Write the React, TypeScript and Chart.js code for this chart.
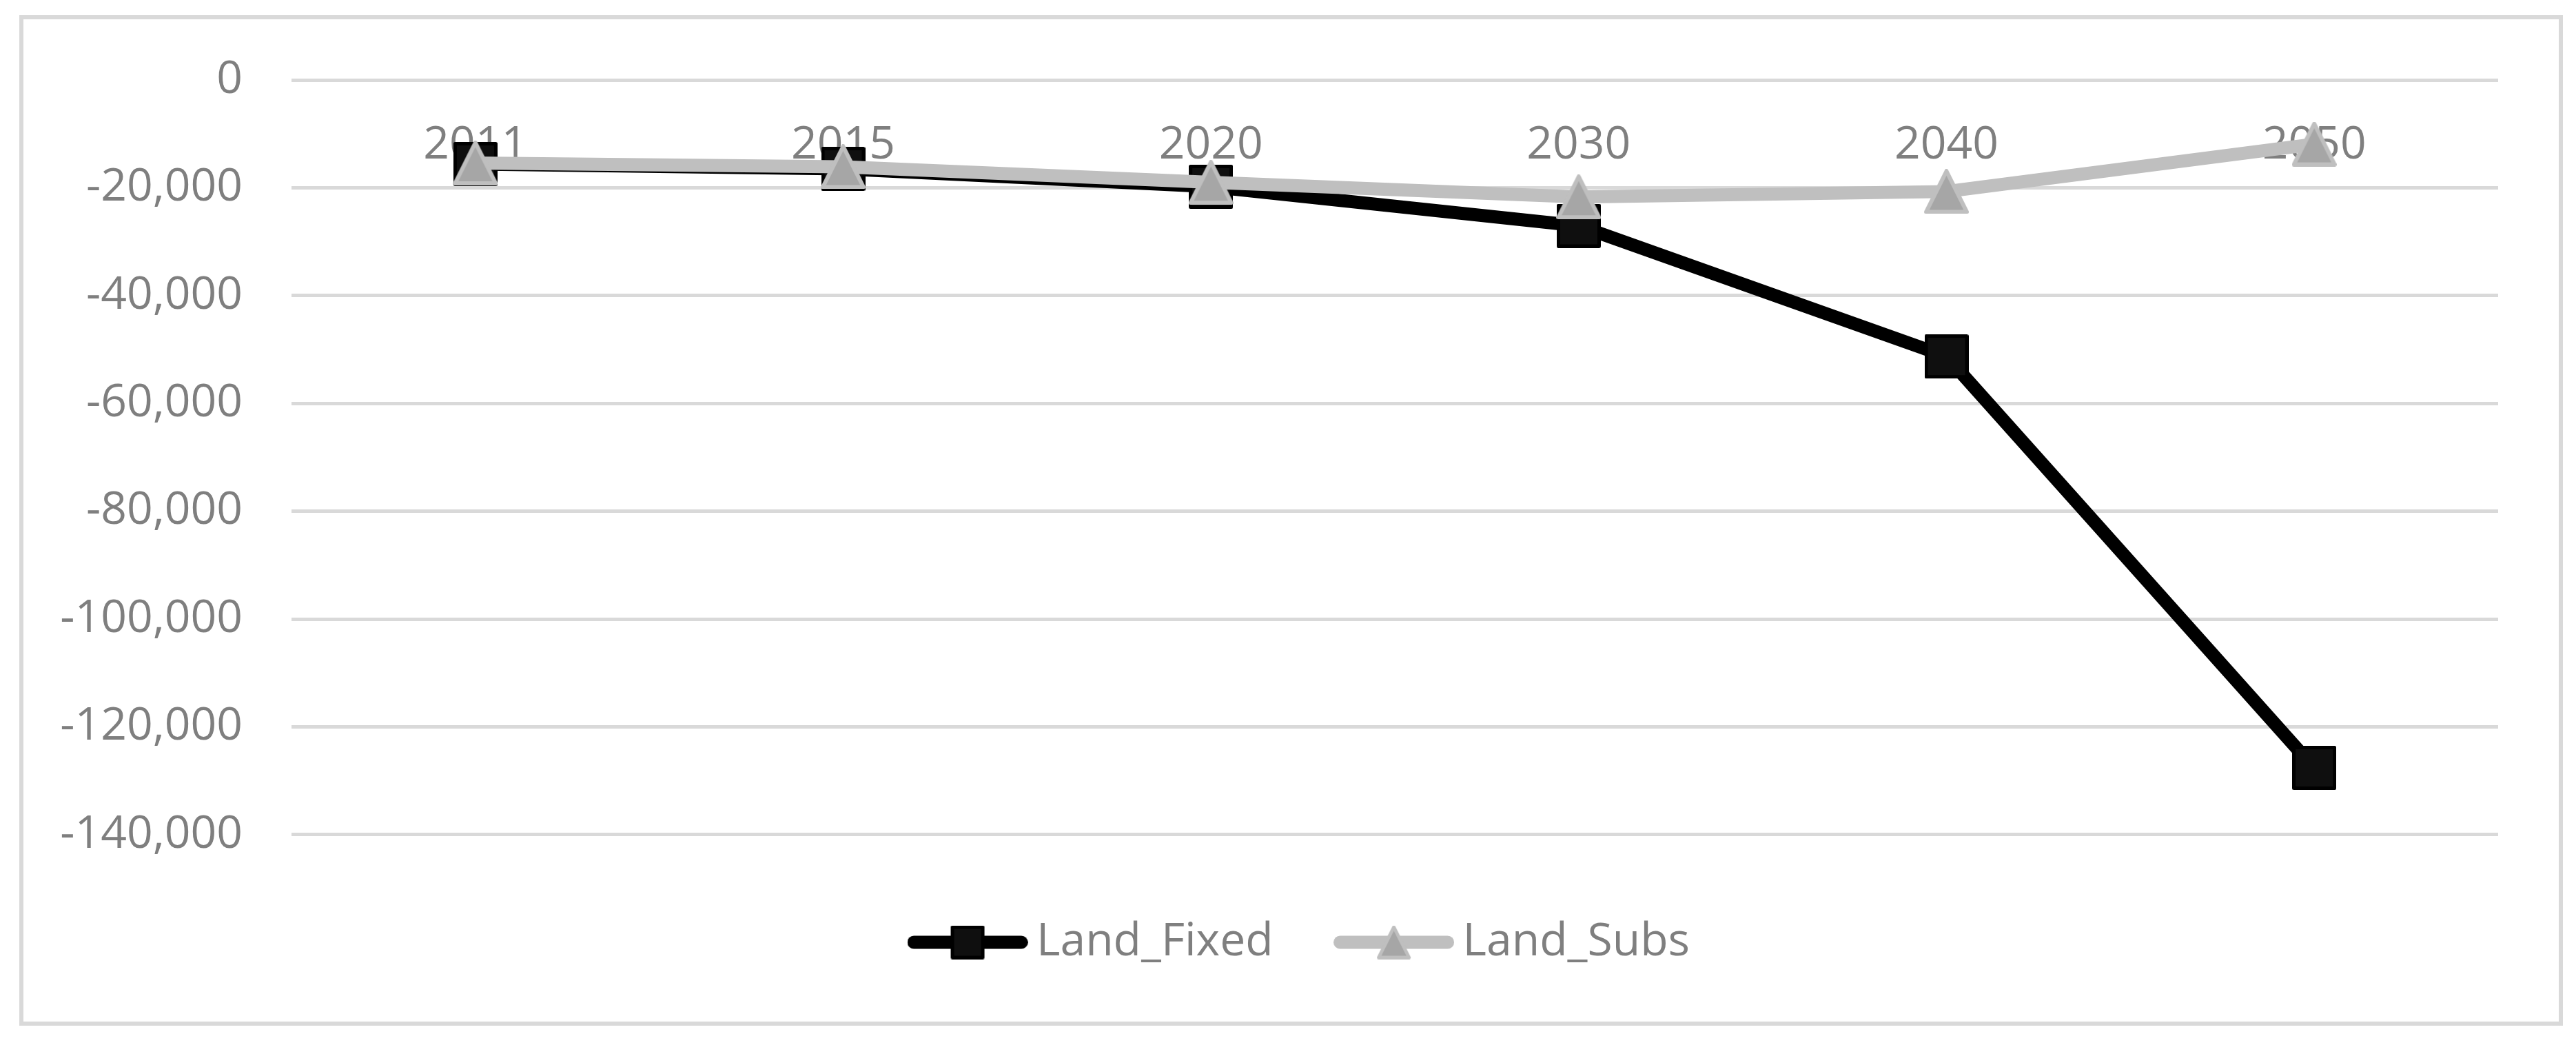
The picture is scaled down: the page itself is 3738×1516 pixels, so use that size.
import React, { useEffect, useRef } from "react";
import { Chart, registerables } from "chart.js";

Chart.register(...registerables);

// ---- data ----
const years: string[] = ["2011", "2015", "2020", "2030", "2040", "2050"];
const landFixed: number[] = [-15600, -16500, -19800, -27050, -51300, -127600];
const landSubs: number[] = [-15400, -16100, -19000, -21700, -20700, -11900];
const seriesNames: string[] = ["Land_Fixed", "Land_Subs"];
const yMin = -140000;
const yMax = 0;
const yStep = 20000;

// ---- style ----
const FONT = "'Open Sans', 'Liberation Sans', sans-serif";
const FONT_SIZE = 66;
const TEXT = "#7f7f7f";
const GRID = "#d9d9d9";
const FIXED_LINE = "#000000";
const SUBS_LINE = "#bfbfbf";
const LINE_W = 19;

function squareMarker(size: number, border: number): HTMLCanvasElement {
  const c = document.createElement("canvas");
  c.width = size;
  c.height = size;
  const ctx = c.getContext("2d")!;
  ctx.lineJoin = "round";
  ctx.fillStyle = "#0f0f0f";
  ctx.strokeStyle = "#000000";
  ctx.lineWidth = border;
  const h = border / 2;
  ctx.fillRect(h, h, size - border, size - border);
  ctx.strokeRect(h, h, size - border, size - border);
  return c;
}

function triangleMarker(size: number, border: number): HTMLCanvasElement {
  const c = document.createElement("canvas");
  c.width = size;
  c.height = size;
  const ctx = c.getContext("2d")!;
  ctx.lineJoin = "round";
  ctx.fillStyle = "#a6a6a6";
  ctx.strokeStyle = "#bfbfbf";
  ctx.lineWidth = border;
  const h = border / 2;
  ctx.beginPath();
  ctx.moveTo(size / 2, h);
  ctx.lineTo(size - h, size - h);
  ctx.lineTo(h, size - h);
  ctx.closePath();
  ctx.fill();
  ctx.stroke();
  return c;
}

function legendIcon(marker: HTMLCanvasElement, color: string, width: number, height: number): HTMLCanvasElement {
  const c = document.createElement("canvas");
  c.width = width;
  c.height = height;
  const ctx = c.getContext("2d")!;
  ctx.strokeStyle = color;
  ctx.lineWidth = LINE_W;
  ctx.lineCap = "round";
  ctx.beginPath();
  ctx.moveTo(LINE_W / 2, height / 2);
  ctx.lineTo(width - LINE_W / 2, height / 2);
  ctx.stroke();
  ctx.drawImage(marker, (width - marker.width) / 2, (height - marker.height) / 2);
  return c;
}

const CANVAS_W = 3679;
const CANVAS_H = 1454;

export default function App() {
  const ref = useRef<HTMLCanvasElement | null>(null);

  useEffect(() => {
    if (!ref.current) return;
    const sq = squareMarker(64, 5);
    const tri = triangleMarker(65, 6);
    const legSq = legendIcon(squareMarker(49, 5), FIXED_LINE, 175, 52);
    const legTri = legendIcon(triangleMarker(49, 5), SUBS_LINE, 175, 52);
    const legendIcons = [legSq, legTri];

    const chart = new Chart(ref.current, {
      type: "line",
      data: {
        labels: years,
        datasets: [
          {
            label: seriesNames[0],
            data: landFixed,
            borderColor: FIXED_LINE,
            backgroundColor: FIXED_LINE,
            borderWidth: LINE_W,
            borderJoinStyle: "round",
            borderCapStyle: "round",
            pointStyle: sq as any,
            pointRadius: 32,
            tension: 0,
            order: 1,
            xAxisID: "x",
            yAxisID: "y",
          },
          {
            label: seriesNames[1],
            data: landSubs,
            borderColor: SUBS_LINE,
            backgroundColor: SUBS_LINE,
            borderWidth: LINE_W,
            borderJoinStyle: "round",
            borderCapStyle: "round",
            pointStyle: tri as any,
            pointRadius: 32,
            tension: 0,
            order: 0,
            xAxisID: "x",
            yAxisID: "y",
          },
        ],
      },
      options: {
        animation: false,
        responsive: false,
        devicePixelRatio: 1,
        layout: { padding: { left: 42, right: 0, top: 88, bottom: 72 } },
        plugins: {
          tooltip: { enabled: false },
          legend: {
            display: true,
            position: "bottom",
            title: { display: true, text: "", font: { size: 1 }, padding: { top: 14, bottom: 0 } },
            labels: {
              usePointStyle: true,
              pointStyleWidth: 134,
              padding: 108,
              color: TEXT,
              font: { family: FONT, size: FONT_SIZE },
              generateLabels: (ch: any) =>
                ch.data.datasets.map((ds: any, i: number) => ({
                  text: ds.label,
                  fillStyle: "rgba(0,0,0,0)",
                  strokeStyle: "rgba(0,0,0,0)",
                  lineWidth: 0,
                  hidden: false,
                  datasetIndex: i,
                  pointStyle: legendIcons[i],
                  fontColor: TEXT,
                })),
            },
          },
        },
        scales: {
          x: {
            type: "category",
            position: { y: 0 } as any,
            offset: true,
            z: 1,
            grid: { display: false, drawTicks: false },
            border: { display: false },
            ticks: {
              color: TEXT,
              font: { family: FONT, size: FONT_SIZE },
              padding: 56,
              maxRotation: 0,
              autoSkip: false,
            },
          },
          y: {
            type: "linear",
            position: "left",
            min: yMin,
            max: yMax,
            afterFit: (s: any) => {
              s.width = 347;
            },
            grid: {
              color: GRID,
              lineWidth: 5,
              drawTicks: true,
              tickLength: 71,
              tickColor: "rgba(0,0,0,0)",
            },
            border: { display: false },
            ticks: {
              stepSize: yStep,
              color: TEXT,
              font: { family: FONT, size: FONT_SIZE },
              padding: 0,
              callback: (v: any) => Number(v).toLocaleString("en-US"),
            },
          },
          yPad: {
            type: "linear",
            position: "right",
            display: true,
            afterFit: (s: any) => {
              s.width = 88;
            },
            grid: { display: false, drawTicks: false },
            border: { display: false },
            ticks: { display: false },
          },
        },
      },
    });
    return () => chart.destroy();
  }, []);

  return (
    <div
      style={{
        position: "absolute",
        left: 28,
        top: 22,
        width: CANVAS_W,
        height: CANVAS_H,
        border: "6px solid #d9d9d9",
        background: "#ffffff",
      }}
    >
      <canvas ref={ref} width={CANVAS_W} height={CANVAS_H} style={{ display: "block" }} />
    </div>
  );
}
